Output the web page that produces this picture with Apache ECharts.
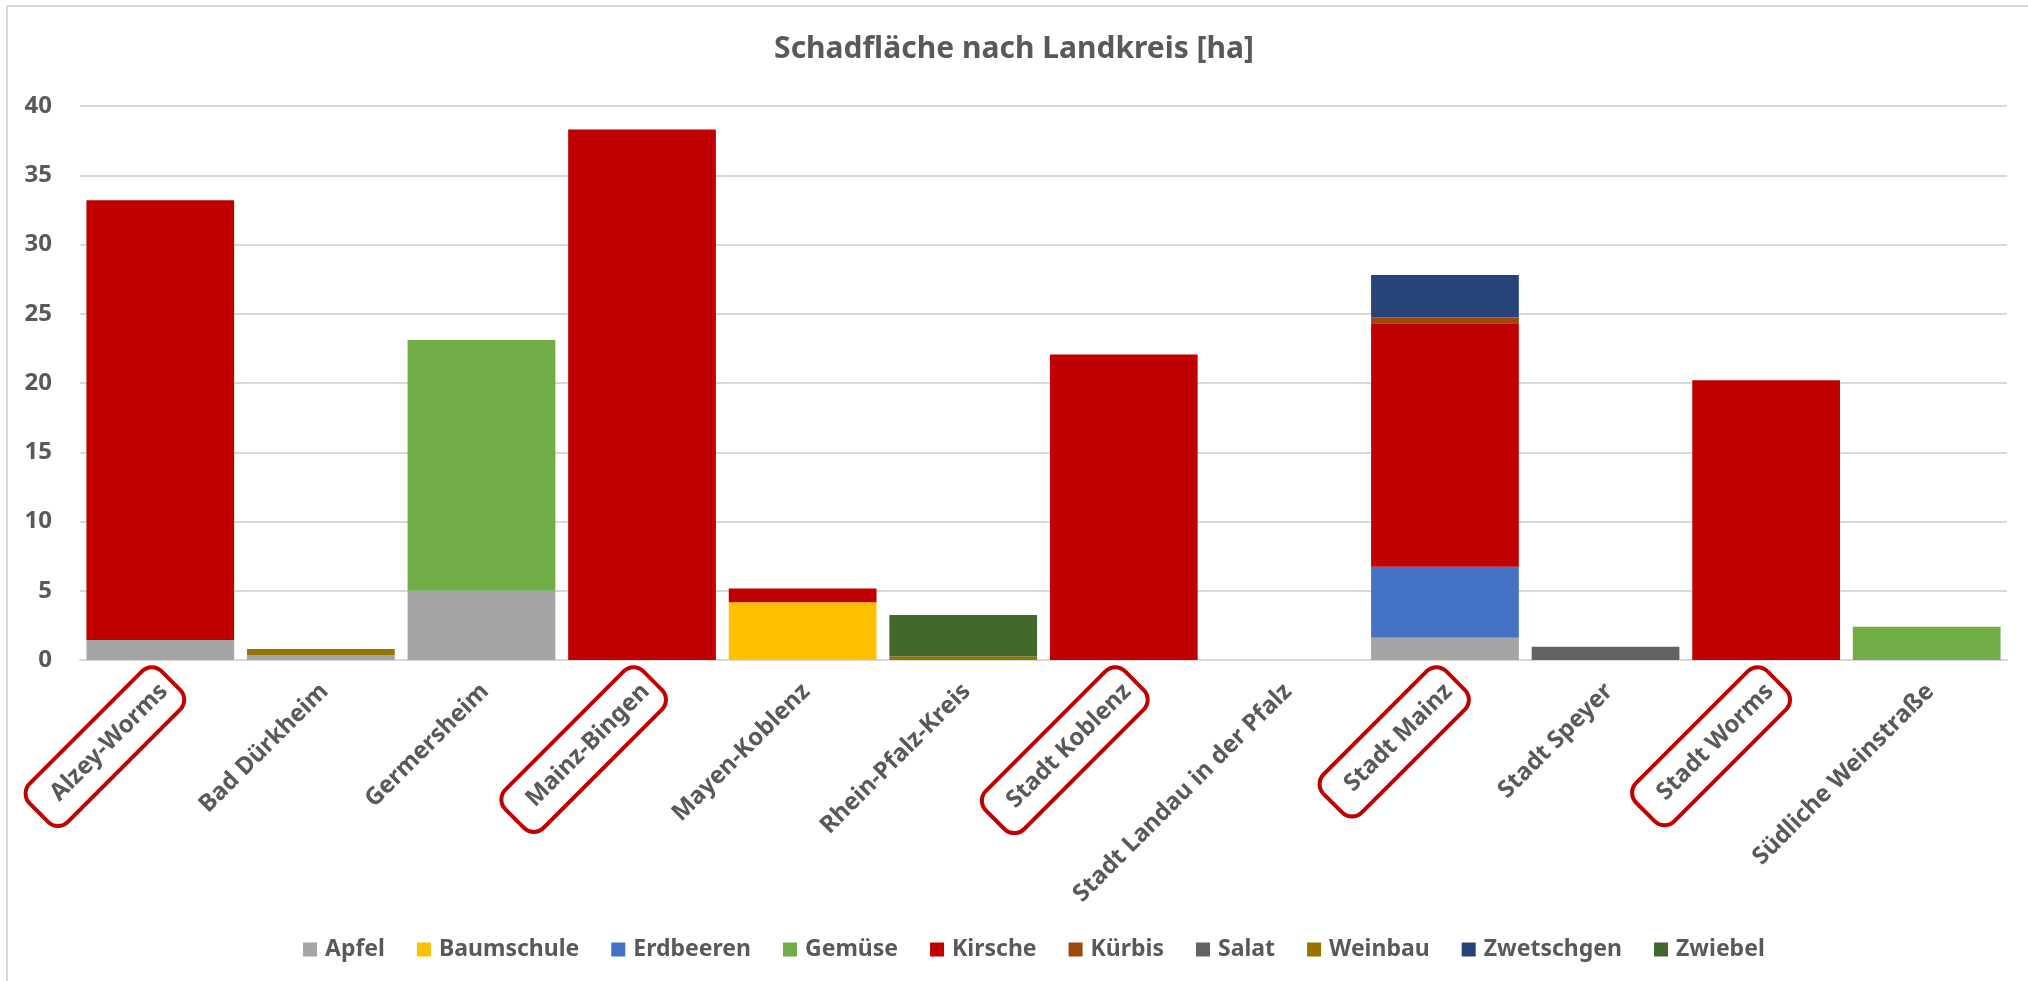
<!DOCTYPE html>
<html>
<head>
<meta charset="utf-8">
<script src="https://cdn.jsdelivr.net/npm/echarts@6/dist/echarts.min.js"></script>
<style>
  html, body { margin: 0; padding: 0; background: #fff; }
  #main { width: 2028px; height: 981px; }
</style>
</head>
<body>
<div id="main"></div>
<script>
// Landkreise (x axis)
var landkreise = [
  "Alzey-Worms", "Bad Dürkheim", "Germersheim", "Mainz-Bingen", "Mayen-Koblenz",
  "Rhein-Pfalz-Kreis", "Stadt Koblenz", "Stadt Landau in der Pfalz", "Stadt Mainz",
  "Stadt Speyer", "Stadt Worms", "Südliche Weinstraße"
];
// rot umrandete Landkreise
var markiert = ["Alzey-Worms", "Mainz-Bingen", "Stadt Koblenz", "Stadt Mainz", "Stadt Worms"];

// Schadfläche je Kultur [ha]
var apfel      = [1.45, 0.36, 5.0, null, null, null, null, null, 1.61, null, null, null];
var baumschule = [null, null, null, null, 4.17, null, null, null, null, null, null, null];
var erdbeeren  = [null, null, null, null, null, null, null, null, 5.13, null, null, null];
var gemuese    = [null, null, 18.1, null, null, null, null, null, null, null, null, 2.4];
var kirsche    = [31.75, null, null, 38.3, 1.0, null, 22.05, null, 17.57, null, 20.2, null];
var kuerbis    = [null, null, null, null, null, null, null, null, 0.43, null, null, null];
var salat      = [null, null, null, null, null, null, null, null, null, 0.96, null, null];
var weinbau    = [null, 0.43, null, null, null, 0.25, null, null, null, null, null, null];
var zwetschgen = [null, null, null, null, null, null, null, null, 3.06, null, null, null];
var zwiebel    = [null, null, null, null, null, 3.0, null, null, null, null, null, null];

var yTicks = { min: 0, max: 40, interval: 5 };

var kulturen = [
  { name: "Apfel", data: apfel, color: "#A5A5A5" },
  { name: "Baumschule", data: baumschule, color: "#FFC000" },
  { name: "Erdbeeren", data: erdbeeren, color: "#4472C4" },
  { name: "Gemüse", data: gemuese, color: "#70AD47" },
  { name: "Kirsche", data: kirsche, color: "#C00000" },
  { name: "Kürbis", data: kuerbis, color: "#9E480E" },
  { name: "Salat", data: salat, color: "#636363" },
  { name: "Weinbau", data: weinbau, color: "#997300" },
  { name: "Zwetschgen", data: zwetschgen, color: "#264478" },
  { name: "Zwiebel", data: zwiebel, color: "#43682B" }
];

var textFarbe = "#595959";
var schrift = "Noto Sans";

var labelStil = {
  fontFamily: schrift,
  fontSize: 24,
  lineHeight: 30,
  fontWeight: "bold",
  color: textFarbe,
  padding: [15, 10, 15, 22]
};

var option = {
  animation: false,
  title: {
    text: "Schadfläche nach Landkreis [ha]",
    left: "center",
    top: 29,
    textStyle: {
      fontFamily: schrift,
      fontSize: 30,
      fontWeight: "bold",
      color: textFarbe
    }
  },
  legend: {
    left: 298,
    top: 933,
    icon: "rect",
    itemWidth: 14,
    itemHeight: 14,
    itemGap: 32,
    textStyle: {
      fontFamily: schrift,
      fontSize: 23,
      fontWeight: "bold",
      color: textFarbe,
      padding: [0, 0, 0, 3]
    },
    data: kulturen.map(function (k) { return k.name; })
  },
  grid: {
    left: 80,
    right: 21,
    top: 106,
    bottom: 321,
    outerBoundsMode: "none"
  },
  xAxis: {
    type: "category",
    data: landkreise,
    axisTick: { show: false },
    axisLine: { lineStyle: { color: "#d9d9d9", width: 2 } },
    axisLabel: {
      interval: 0,
      rotate: 45,
      margin: 10,
      align: "right",
      verticalAlign: "top",
      formatter: function (v) {
        return markiert.indexOf(v) >= 0 ? "{hl|" + v + "}" : "{n|" + v + "}";
      },
      rich: {
        n: labelStil,
        hl: Object.assign({}, labelStil, {
          borderColor: "#C00000",
          borderWidth: 4,
          borderRadius: 14
        })
      }
    }
  },
  yAxis: {
    type: "value",
    min: yTicks.min,
    max: yTicks.max,
    interval: yTicks.interval,
    axisLine: { show: false },
    axisTick: { show: false },
    splitLine: { lineStyle: { color: "#d9d9d9", width: 2 } },
    axisLabel: {
      margin: 28,
      fontFamily: schrift,
      fontSize: 24,
      fontWeight: "bold",
      color: textFarbe
    }
  },
  graphic: [
    {
      type: "rect",
      shape: { x: 7, y: 6, width: 2100, height: 1100 },
      style: { fill: "none", stroke: "#d9d9d9", lineWidth: 2 },
      silent: true
    }
  ],
  series: kulturen.map(function (k) {
    return {
      name: k.name,
      type: "bar",
      stack: "gesamt",
      barCategoryGap: "8%",
      itemStyle: { color: k.color },
      data: k.data
    };
  })
};

var myChart = echarts.init(document.getElementById("main"));
myChart.setOption(option);
</script>
</body>
</html>
